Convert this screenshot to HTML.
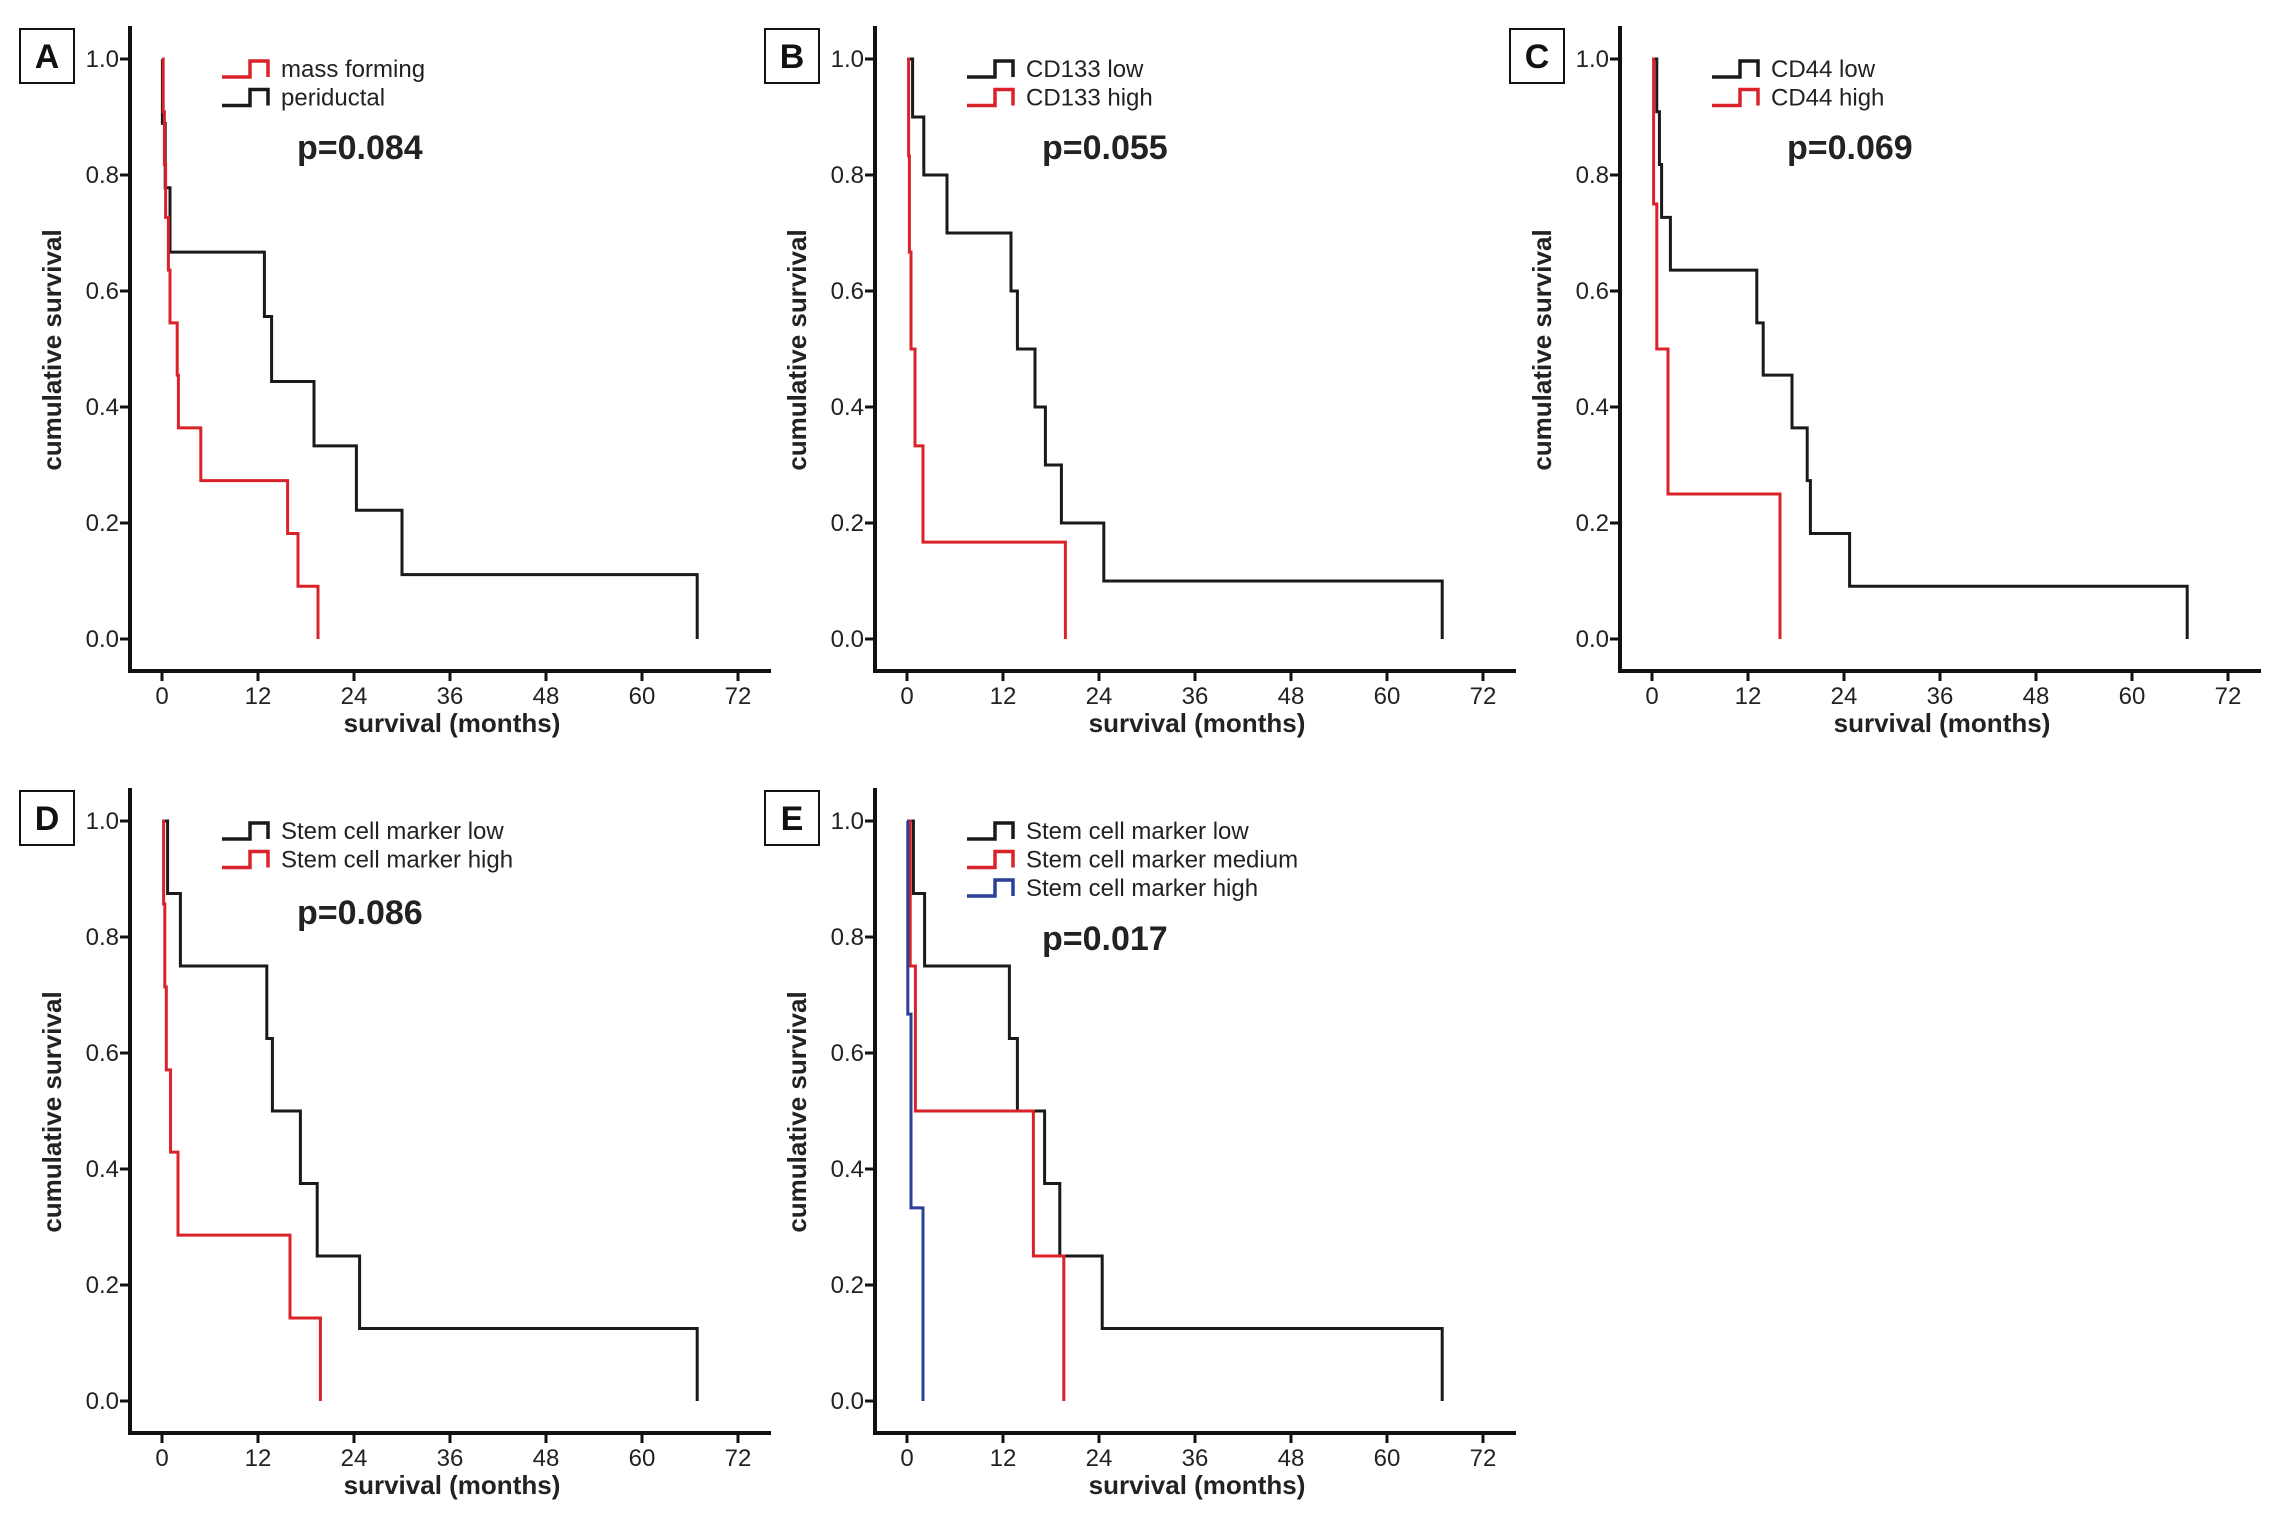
<!DOCTYPE html>
<html><head><meta charset="utf-8"><style>
html,body{margin:0;padding:0;background:#fff;}
svg{display:block;font-family:"Liberation Sans",Arial,sans-serif;}
</style></head><body>
<svg id="fig" width="2280" height="1526" viewBox="0 0 2280 1526" xmlns="http://www.w3.org/2000/svg"></svg>
<script>
// ---- data (months, survival) ----
const xTicks = [0, 12, 24, 36, 48, 60, 72];
const yTicks = [0.0, 0.2, 0.4, 0.6, 0.8, 1.0];
const yTickLabels = ["0.0", "0.2", "0.4", "0.6", "0.8", "1.0"];

const aRedTimes = [0.15, 0.3, 0.45, 0.8, 1.0, 1.9, 2.05, 4.85, 15.7, 17.0, 19.5];
const aRedSurv  = [0.909, 0.818, 0.727, 0.636, 0.545, 0.455, 0.364, 0.273, 0.182, 0.091, 0];
const aBlackTimes = [0.05, 0.4, 1.0, 12.8, 13.7, 19.0, 24.3, 30.0, 66.9];
const aBlackSurv  = [0.889, 0.778, 0.667, 0.556, 0.444, 0.333, 0.222, 0.111, 0];

const bBlackTimes = [0.7, 2.1, 5.0, 13.0, 13.8, 16.0, 17.3, 19.3, 24.6, 66.9];
const bBlackSurv  = [0.9, 0.8, 0.7, 0.6, 0.5, 0.4, 0.3, 0.2, 0.1, 0];
const bRedTimes = [0.2, 0.3, 0.5, 1.0, 2.0, 19.8];
const bRedSurv  = [0.833, 0.667, 0.5, 0.333, 0.167, 0];

const cBlackTimes = [0.6, 0.93, 1.2, 2.3, 13.1, 13.9, 17.5, 19.4, 19.8, 24.7, 66.9];
const cBlackSurv  = [0.909, 0.818, 0.727, 0.636, 0.545, 0.455, 0.364, 0.273, 0.182, 0.091, 0];
const cRedTimes = [0.2, 0.6, 2.0, 16.0];
const cRedSurv  = [0.75, 0.5, 0.25, 0];

const dBlackTimes = [0.7, 2.3, 13.1, 13.8, 17.3, 19.4, 24.7, 66.9];
const dBlackSurv  = [0.875, 0.75, 0.625, 0.5, 0.375, 0.25, 0.125, 0];
const dRedTimes = [0.2, 0.35, 0.54, 1.07, 2.0, 16.0, 19.8];
const dRedSurv  = [0.857, 0.714, 0.571, 0.429, 0.286, 0.143, 0];

const eBlackTimes = [0.8, 2.2, 12.8, 13.8, 17.2, 19.1, 24.4, 66.9];
const eBlackSurv  = [0.875, 0.75, 0.625, 0.5, 0.375, 0.25, 0.125, 0];
const eRedTimes = [0.4, 1.05, 15.8, 19.6];
const eRedSurv  = [0.75, 0.5, 0.25, 0];
const eBlueTimes = [0.1, 0.5, 2.0];
const eBlueSurv  = [0.667, 0.333, 0];

const RED = "#d9222a", BLACK = "#1a1a1a", BLUE = "#2b3f99";
const NS = "http://www.w3.org/2000/svg";
const svg = document.getElementById("fig");

function mk(tag, attrs, parent) {
  const e = document.createElementNS(NS, tag);
  for (const k in attrs) e.setAttribute(k, attrs[k]);
  (parent || svg).appendChild(e);
  return e;
}

function panel(letter, ox, oy, series, legend, pText, pY) {
  const g = mk("g", {transform: `translate(${ox},${oy})`});
  
  
  const X = m => 162 + m * 8;
  const Y = s => 639 - s * 580;

  const box = mk("rect", {x: 20, y: 29, width: 54, height: 54, fill: "#fff", stroke: "#111", "stroke-width": 2}, g);
  
  
  const lt = mk("text", {x: 47, y: 68, "text-anchor": "middle", "font-size": 34, "font-weight": "bold", fill: "#111"}, g);
  lt.textContent = letter;
  
  

  const ya = mk("line", {x1: 130, y1: 26, x2: 130, y2: 673, stroke: "#111", "stroke-width": 4}, g);
  
  
  const xa = mk("line", {x1: 128, y1: 671, x2: 771, y2: 671, stroke: "#111", "stroke-width": 4}, g);
  
  

  xTicks.forEach(t => {
    const tk = mk("line", {x1: X(t), y1: 671, x2: X(t), y2: 681, stroke: "#111", "stroke-width": 3}, g);
    
    
    const tl = mk("text", {x: X(t), y: 704, "text-anchor": "middle", "font-size": 24, fill: "#222"}, g);
    tl.textContent = String(t);
    
    
  });
  yTicks.forEach((t, i) => {
    const tk = mk("line", {x1: 120, y1: Y(t), x2: 130, y2: Y(t), stroke: "#111", "stroke-width": 3}, g);
    
    
    const tl = mk("text", {x: 119, y: Y(t) + 8, "text-anchor": "end", "font-size": 24, fill: "#222"}, g);
    tl.textContent = yTickLabels[i];
    
    
  });
  const xt = mk("text", {x: 452, y: 732, "text-anchor": "middle", "font-size": 26, "font-weight": "bold", fill: "#222"}, g);
  xt.textContent = "survival (months)";
  
  
  const yt = mk("text", {x: 0, y: 0, "text-anchor": "middle", "font-size": 26, "font-weight": "bold", fill: "#222", transform: "translate(61,350) rotate(-90)"}, g);
  yt.textContent = "cumulative survival";
  
  

  series.forEach(s => {
    let d = `M${X(0)},${Y(1)}`;
    s.times.forEach((t, i) => {
      d += ` H${X(t)} V${Y(s.surv[i])}`;
    });
    const p = mk("path", {d: d, fill: "none", stroke: s.color, "stroke-width": 3}, g);
    
    
  });

  legend.forEach((l, i) => {
    const cy = 69 + i * 28.5;
    const ic = mk("path", {d: `M222,${cy + 8} H250 V${cy - 8} H268 V${cy + 8}`, fill: "none", stroke: l.color, "stroke-width": 3.5}, g);
    
    
    const tx = mk("text", {x: 281, y: cy + 8, "font-size": 24, fill: "#222"}, g);
    tx.textContent = l.label;
    
    
  });

  const pv = mk("text", {x: 297, y: pY, "font-size": 34, "font-weight": "bold", fill: "#222"}, g);
  pv.textContent = pText;
  
  
}

panel("A", 0, 0,
  [{times: aBlackTimes, surv: aBlackSurv, color: BLACK, name: "periductal-curve"},
   {times: aRedTimes, surv: aRedSurv, color: RED, name: "mass-forming-curve"}],
  [{label: "mass forming", color: RED}, {label: "periductal", color: BLACK}],
  "p=0.084", 159);
panel("B", 745, 0,
  [{times: bBlackTimes, surv: bBlackSurv, color: BLACK, name: "cd133-low-curve"},
   {times: bRedTimes, surv: bRedSurv, color: RED, name: "cd133-high-curve"}],
  [{label: "CD133 low", color: BLACK}, {label: "CD133 high", color: RED}],
  "p=0.055", 159);
panel("C", 1490, 0,
  [{times: cBlackTimes, surv: cBlackSurv, color: BLACK, name: "cd44-low-curve"},
   {times: cRedTimes, surv: cRedSurv, color: RED, name: "cd44-high-curve"}],
  [{label: "CD44 low", color: BLACK}, {label: "CD44 high", color: RED}],
  "p=0.069", 159);
panel("D", 0, 762,
  [{times: dBlackTimes, surv: dBlackSurv, color: BLACK, name: "marker-low-curve"},
   {times: dRedTimes, surv: dRedSurv, color: RED, name: "marker-high-curve"}],
  [{label: "Stem cell marker low", color: BLACK}, {label: "Stem cell marker high", color: RED}],
  "p=0.086", 162);
panel("E", 745, 762,
  [{times: eBlackTimes, surv: eBlackSurv, color: BLACK, name: "marker-low-curve"},
   {times: eRedTimes, surv: eRedSurv, color: RED, name: "marker-medium-curve"},
   {times: eBlueTimes, surv: eBlueSurv, color: BLUE, name: "marker-high-curve"}],
  [{label: "Stem cell marker low", color: BLACK}, {label: "Stem cell marker medium", color: RED}, {label: "Stem cell marker high", color: BLUE}],
  "p=0.017", 188);
</script>
</body></html>
